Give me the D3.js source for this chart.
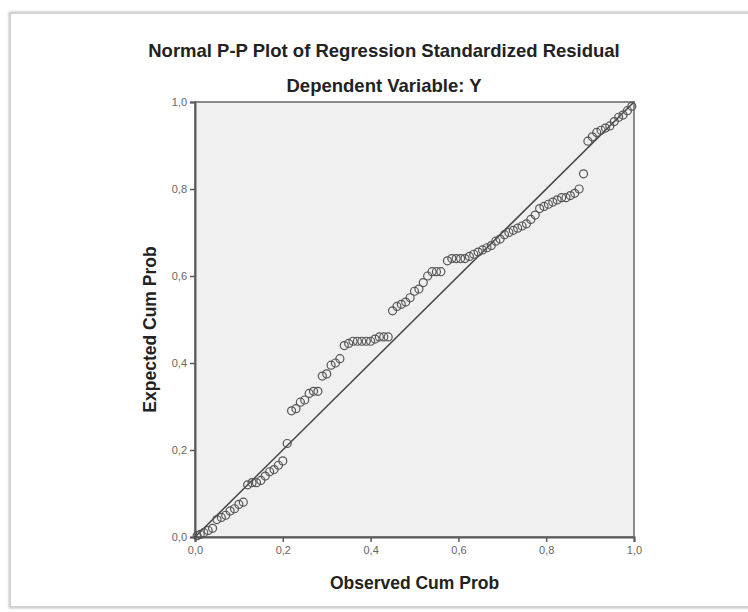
<!DOCTYPE html>
<html>
<head>
<meta charset="utf-8">
<script src="https://cdn.jsdelivr.net/npm/d3@7"></script>
<style>
  body { margin: 0; background: #fff; }
  svg { display: block; font-family: "Liberation Sans", Arial, sans-serif; }
</style>
</head>
<body>
<div id="chart"></div>
<script>
// observed vs expected cumulative probabilities
const observed = [0.005, 0.012, 0.02, 0.03, 0.04, 0.05, 0.06, 0.07, 0.08, 0.09,
  0.10, 0.11, 0.12, 0.13, 0.14, 0.15, 0.16, 0.17, 0.18, 0.19,
  0.20, 0.21, 0.22, 0.23, 0.24, 0.25, 0.26, 0.27, 0.28, 0.29,
  0.30, 0.31, 0.32, 0.33, 0.34, 0.35, 0.36, 0.37, 0.38, 0.39,
  0.40, 0.41, 0.42, 0.43, 0.44, 0.45, 0.46, 0.47, 0.48, 0.49,
  0.50, 0.51, 0.52, 0.53, 0.54, 0.55, 0.56, 0.575, 0.585, 0.595,
  0.605, 0.615, 0.625, 0.635, 0.645, 0.655, 0.665, 0.675, 0.685, 0.695,
  0.705, 0.715, 0.725, 0.735, 0.745, 0.755, 0.765, 0.775, 0.785, 0.795,
  0.805, 0.815, 0.825, 0.835, 0.845, 0.855, 0.865, 0.875, 0.885, 0.895,
  0.905, 0.915, 0.925, 0.935, 0.945, 0.955, 0.965, 0.975, 0.985, 0.995];
const expected = [0.003, 0.006, 0.01, 0.015, 0.02, 0.04, 0.045, 0.05, 0.06, 0.065,
  0.075, 0.08, 0.12, 0.125, 0.125, 0.13, 0.14, 0.15, 0.155, 0.165,
  0.175, 0.215, 0.29, 0.295, 0.31, 0.315, 0.33, 0.335, 0.335, 0.37,
  0.375, 0.395, 0.40, 0.41, 0.44, 0.445, 0.45, 0.45, 0.45, 0.45,
  0.45, 0.455, 0.46, 0.46, 0.46, 0.52, 0.53, 0.535, 0.54, 0.55,
  0.565, 0.57, 0.585, 0.60, 0.61, 0.61, 0.61, 0.635, 0.64, 0.64,
  0.64, 0.64, 0.645, 0.65, 0.655, 0.66, 0.665, 0.67, 0.68, 0.685,
  0.695, 0.70, 0.705, 0.71, 0.715, 0.72, 0.73, 0.74, 0.755, 0.76,
  0.765, 0.77, 0.775, 0.78, 0.78, 0.785, 0.79, 0.80, 0.835, 0.91,
  0.92, 0.93, 0.935, 0.94, 0.945, 0.955, 0.965, 0.97, 0.98, 0.99];
const tickValues = [0, 0.2, 0.4, 0.6, 0.8, 1.0];

const title = 'Normal P-P Plot of Regression Standardized Residual';
const subtitle = 'Dependent Variable: Y';
const xLabel = 'Observed Cum Prob';
const yLabel = 'Expected Cum Prob';

const width = 748, height = 612;
// plot box in pixels
const plotLeft = 195, plotRight = 634, plotTop = 102, plotBottom = 537;

let svg = d3.select('#chart')
  .append('svg')
  .attr('width', width)
  .attr('height', height);

// soft outer frame
let defs = svg.append('defs');
defs.append('filter').attr('id', 'shadow')
  .append('feGaussianBlur').attr('stdDeviation', 1.2);

svg.append('rect')
  .attr('x', 10).attr('y', 13)
  .attr('width', 760).attr('height', 594)
  .attr('fill', 'none')
  .attr('stroke', '#bdbdbd')
  .attr('stroke-width', 2.5)
  .attr('filter', 'url(#shadow)');
svg.append('rect')
  .attr('x', 11).attr('y', 14)
  .attr('width', 760).attr('height', 592)
  .attr('fill', '#fff');

let xScale = d3.scaleLinear().domain([0, 1]).range([plotLeft, plotRight]);
let yScale = d3.scaleLinear().domain([0, 1]).range([plotBottom, plotTop]);

// plot background
svg.append('rect')
  .attr('x', plotLeft).attr('y', plotTop)
  .attr('width', plotRight - plotLeft).attr('height', plotBottom - plotTop)
  .attr('fill', '#f0f0f0')
  .attr('stroke', '#8a8a8a')
  .attr('stroke-width', 2);

// axes
let fmt = d => d3.format('.1f')(d).replace('.', ',');

let xAxis = svg.append('g')
  .attr('transform', `translate(0,${plotBottom})`)
  .call(d3.axisBottom(xScale).tickValues(tickValues).tickFormat(fmt).tickSize(5).tickPadding(4));
let yAxis = svg.append('g')
  .attr('transform', `translate(${plotLeft},0)`)
  .call(d3.axisLeft(yScale).tickValues(tickValues).tickFormat(fmt).tickSize(5).tickPadding(3));

[xAxis, yAxis].forEach(ax => {
  ax.select('.domain').attr('stroke', '#5a5a5a').attr('stroke-width', 2);
  ax.selectAll('.tick line').attr('stroke', '#5a5a5a').attr('stroke-width', 1.5);
  ax.selectAll('.tick text')
    .attr('fill', '#666')
    .style('font-size', '11px')
    .style('font-family', '"Liberation Sans", Arial, sans-serif');
});

// reference diagonal
svg.append('line')
  .attr('x1', xScale(0)).attr('y1', yScale(0))
  .attr('x2', xScale(1)).attr('y2', yScale(1))
  .attr('stroke', '#444')
  .attr('stroke-width', 1.5);

// points
let points = observed.map((o, i) => [o, expected[i]]);
svg.append('g')
  .selectAll('circle')
  .data(points)
  .join('circle')
  .attr('cx', d => xScale(d[0]))
  .attr('cy', d => yScale(d[1]))
  .attr('r', 4)
  .attr('fill', 'none')
  .attr('stroke', '#555')
  .attr('stroke-width', 1.2);

// titles
svg.append('text')
  .attr('x', 384).attr('y', 57)
  .attr('text-anchor', 'middle')
  .attr('font-weight', 'bold')
  .attr('font-size', '18.5px')
  .attr('fill', '#222')
  .text(title);

svg.append('text')
  .attr('x', 384).attr('y', 92)
  .attr('text-anchor', 'middle')
  .attr('font-weight', 'bold')
  .attr('font-size', '18.5px')
  .attr('fill', '#222')
  .text(subtitle);

svg.append('text')
  .attr('x', (plotLeft + plotRight) / 2).attr('y', 589)
  .attr('text-anchor', 'middle')
  .attr('font-weight', 'bold')
  .attr('font-size', '17.5px')
  .attr('fill', '#222')
  .text(xLabel);

svg.append('text')
  .attr('transform', `translate(156,${(plotTop + plotBottom) / 2 + 10}) rotate(-90)`)
  .attr('text-anchor', 'middle')
  .attr('font-weight', 'bold')
  .attr('font-size', '17.5px')
  .attr('fill', '#222')
  .text(yLabel);
</script>
</body>
</html>
